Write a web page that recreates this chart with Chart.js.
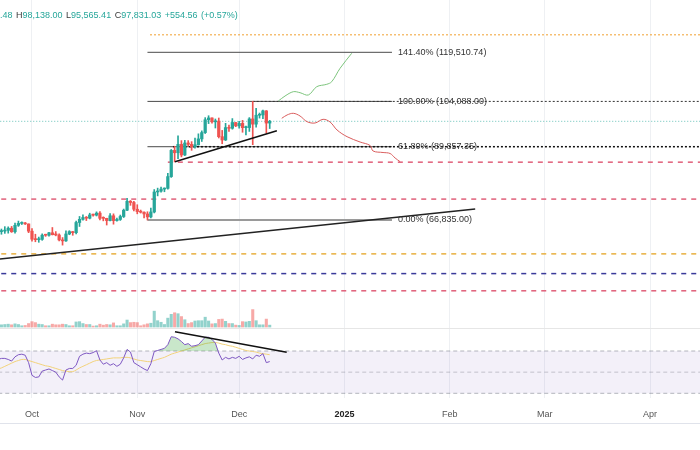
<!DOCTYPE html>
<html><head><meta charset="utf-8">
<script src="https://cdn.jsdelivr.net/npm/chart.js@4.4.1/dist/chart.umd.min.js"></script>
<style>
html,body{margin:0;padding:0;background:#fff;}
#wrap{position:relative;width:700px;height:450px;overflow:hidden;}
#hdr{position:absolute;left:0;top:10px;font:9px "Liberation Sans",Arial,sans-serif;line-height:11px;color:#26a69a;white-space:nowrap;word-spacing:1px;}
#hdr .k{color:#3a3a3a;}
</style></head><body>
<div id="wrap"><canvas id="c" width="700" height="450"></canvas>
<div id="hdr"><span>.48</span> <span class="k">H</span>98,138.00 <span class="k">L</span>95,565.41 <span class="k">C</span>97,831.03 +554.56 (+0.57%)</div></div>
<script>
// ---- data (x = days since 2024-10-01) ----
const firstDay = -10; // 2024-09-21
const opens = [62949,63192,63348,63578,64259,63144,65173,65769,65858,65602,
 63327,60805,60650,60754,62068,62052,62820,62224,62135,60583,
 60274,62446,63193,62851,66047,67042,67612,67400,68428,68362,
 69002,67367,67360,66653,68161,66642,67014,67930,69907,72720,72339,
 70216,69482,69289,68741,67811,69359,75640,75904,76545,76778,
 80471,88700,87955,90587,87251,91033,90587,89855,90465,92310,
 94286,98317,98892,97673,97900,93010,91965,95864,95644,97460,
 96407,97185,95840,95865,98587,96945,99740,99831,101109,97276.48];
const highs = [63550,64000,64745,64688,64817,65839,66498,66260,66076,65618,
 64130,62370,61475,62484,62370,62986,64478,63200,62520,61320,
 63417,63480,63272,66500,67950,68425,67939,68969,68693,69400,
 69520,67836,67400,68850,68771,67450,68388,70270,73620,72962,72700,
 71632,69960,69389,69432,70577,76400,76850,77199,76927,81500,
 89000,89956,93265,91765,91850,91779,91449,92595,93905,94831,
 98989,99588,98950,98564,98871,94974,97208,96650,98694,97464,
 97836,98130,96305,99000,104088,101899,100439,101350,101215,98138];
const lows = [62758,62357,62638,62700,62947,62670,64819,65422,65432,62857,
 60164,60000,59828,60459,61689,61794,62128,61860,60300,58946,
 60087,62209,62033,62442,64800,66750,66666,67177,68010,68100,
 66840,66571,65260,66559,65520,66440,66700,67618,69730,71436,69685,
 68779,69020,67478,66835,67458,69055,74416,75562,75705,76492,
 80216,85073,86127,86668,87073,90057,88722,89376,90357,91500,
 94000,97122,97232,95734,92600,90791,91792,94650,95365,96150,
 95693,94395,93578,94660,90500,95982,98844,98657,94150,95565.41];
const closes = [63192,63348,63578,64259,63144,65173,65769,65858,65602,63327,
 60805,60650,60754,62068,62052,62820,62224,62135,60583,60274,
 62446,63193,62851,66047,67042,67612,67400,68428,68362,69002,
 67367,67360,66653,68161,66642,67014,67930,69907,72720,72339,70216,
 69482,69289,68741,67811,69359,75640,75904,76545,76778,80471,
 88700,87955,90587,87251,91033,90587,89855,90465,92310,94286,
 98317,98892,97673,97900,93010,91965,95864,95644,97460,96407,
 97185,95840,95865,98587,96945,99740,99831,101109,97276.48,97831.03];
const volumes = [10,14,16,18,14,20,16,8,10,22,
 34,28,18,16,8,8,18,14,14,18,
 16,8,8,32,34,22,16,16,6,8,
 18,12,16,14,26,8,8,20,44,28,30,
 28,8,14,20,24,100,40,30,16,56,
 80,90,84,66,46,22,28,38,40,40,
 62,38,20,22,48,50,36,22,22,12,
 10,34,32,36,110,40,14,14,50,12];
const rsi = [62,63,63,62,60.5,64.5,66.5,67,66,59,
 47,45,45.5,51,52,53,51.5,50,45.5,42.5,
 52,53.5,53.5,56.5,65,67,68,67.5,68.5,70.3,
 61.5,57.5,59,56.5,58,55.5,57.5,63.5,71.5,69,59,
 57,55,53,51.5,58,69.5,70.5,71.5,72.5,76,
 83.5,83,81.5,79,76,77,74.5,75,76,79.5,
 83,83,81,77.5,68,61.5,64,62.5,64,63,
 65,62,63.5,64.5,62.5,66,65,67.5,59,60];
const rsiMA = [53,54,55.5,57,58.5,60,61,62,62,61,
 60,59,58,57,56,55.5,54.5,53.5,52.5,51.5,
 51,50.5,50.5,52,54,55.5,57,58.5,60,61,
 61.5,62,62.5,63,63.5,63.5,63.5,64,64,63.5,62.5,
 61.5,61,60.5,60,60,61,62,63,64,65.5,
 67,68,69,70,71,72,73,74,75,76,
 77,77.5,78,78,77.5,76.5,76,75,74.5,73.5,
 72.5,71.5,70.5,70,69.5,69,68,67.5,67,66.5];
const tickDays = [0,31,61,92,123,151,182];
const tickLabels = ['Oct','Nov','Dec','2025','Feb','Mar','Apr'];
const fibPrices = [119510.74,104088.00,89857.35,66835.00];
const fibLabels = ['141.40% (119,510.74)','100.00% (104,088.00)','61.80% (89,857.35)','0.00% (66,835.00)'];
const fibStartDay = 34, fibEndDay = 106;
const lastPrice = 97831.03;
const targetPrice = 125000;
const supportPrices = [85000, 73400, 56200, 50000, 44600];
const longTrend = [{x:-9.42,y:54585},{x:130.5,y:70290}];
const shortTrend = [{x:42.1,y:85148},{x:72.1,y:94885}];
const rsiTrend = [{x:42.1,y:88.2},{x:75.0,y:68.8}];
const bullPath = [[72.54,104214],[74.51,105784],[76.95,107135],[78.93,106821],[81.37,106098],[83.85,108706],[86.79,109459],[88.26,110276],[90.71,114485],[94.15,119197]];
const bearPath = [[73.54,98780],[75.10,99817],[76.95,100351],[78.93,99503],[80.99,97713],[83.35,97302],[85.71,98466],[87.77,97618],[89.83,95105],[92.78,93001],[96.61,91336],[99.56,90237],[100.44,88509],[103.38,88038],[105.45,87724],[106.92,86311],[108.40,85148]];

// ---- layout ranges ----
const X_MIN = -9.42, X_MAX = 196.7;
const P_MIN = 10927, P_MAX = 135938;
const V_MIN = -447, V_MAX = 2060;
const R_MIN = 25.56, R_MAX = 401.9;
const UP = '#26a69a', DN = '#ef5350';

const days = closes.map((_, i) => firstDay + i);
const isUp = closes.map((c, i) => c >= opens[i]);
const candleCol = isUp.map(u => u ? UP : DN);
const volCol = isUp.map(u => u ? 'rgba(38,166,154,0.5)' : 'rgba(239,83,80,0.5)');

function hline(y, x0, x1, color, width, dash, order, axis) {
  return {type:'line', data:[{x:x0,y:y},{x:x1,y:y}], borderColor:color, borderWidth:width,
    borderDash:dash||[], yAxisID:axis||'y', order:order, pointRadius:0, fill:false};
}
const datasets = [
  {type:'bar', data: days.map((d,i)=>({x:d,y:[lows[i],highs[i]]})), backgroundColor:candleCol, barThickness:1, grouped:false, order:11, yAxisID:'y', minBarLength:1},
  {type:'bar', data: days.map((d,i)=>({x:d,y:[opens[i],closes[i]]})), backgroundColor:candleCol, barThickness:2.6, grouped:false, order:10, yAxisID:'y', minBarLength:1},
  {type:'bar', data: days.map((d,i)=>({x:d,y:volumes[i]})), backgroundColor:volCol, barThickness:2.4, grouped:false, order:12, yAxisID:'yVol'},
  // fib
  hline(fibPrices[0], fibStartDay, fibEndDay, '#4a4a4a', 1, [], 20),
  hline(fibPrices[1], fibStartDay, fibEndDay, '#4a4a4a', 1, [], 20),
  hline(fibPrices[2], fibStartDay, fibEndDay, '#4a4a4a', 1, [], 20),
  hline(fibPrices[3], fibStartDay, fibEndDay, '#9a9a9a', 2, [], 20),
  hline(fibPrices[1], 65, 200, '#333', 1, [2,2], 19),
  hline(fibPrices[2], 41.5, 200, '#111', 1.5, [2,2], 19),
  hline(lastPrice, -12, 200, 'rgba(38,166,154,0.7)', 1, [1,2], 19),
  hline(targetPrice, 34.75, 200, '#f0a030', 1, [2,2], 19),
  hline(supportPrices[0], 40, 200, '#e0607a', 1.5, [5,5], 19),
  hline(supportPrices[1], -12, 200, '#e0607a', 1.5, [5,5], 19),
  hline(supportPrices[2], -12, 200, '#e8b040', 1.5, [5,5], 19),
  hline(supportPrices[3], -12, 200, '#3a3a9a', 1.5, [5,5], 19),
  hline(supportPrices[4], -12, 200, '#e0607a', 1.5, [5,5], 19),
  // trendlines
  {type:'line', data:longTrend, borderColor:'#222', borderWidth:1.5, pointRadius:0, order:1, yAxisID:'y'},
  {type:'line', data:shortTrend, borderColor:'#111', borderWidth:1.5, pointRadius:0, order:1, yAxisID:'y'},
  {type:'line', data:bullPath.map(p=>({x:p[0],y:p[1]})), borderColor:'#7cc47c', borderWidth:1, pointRadius:0, tension:0.35, order:2, yAxisID:'y'},
  {type:'line', data:bearPath.map(p=>({x:p[0],y:p[1]})), borderColor:'#d95c5c', borderWidth:1, pointRadius:0, tension:0.35, order:2, yAxisID:'y'},
  // RSI
  hline(70, -12, 200, 'rgba(120,123,134,0.55)', 1, [4,3], 30, 'yRsi'),
  hline(50, -12, 200, 'rgba(120,123,134,0.4)', 1, [4,3], 30, 'yRsi'),
  hline(30, -12, 200, 'rgba(120,123,134,0.55)', 1, [4,3], 30, 'yRsi'),
  {type:'line', data: days.map((d,i)=>({x:d,y:rsiMA[i]})), borderColor:'#f2d27a', borderWidth:1, pointRadius:0, tension:0.3, order:6, yAxisID:'yRsi'},
  {type:'line', data: days.map((d,i)=>({x:d,y:rsi[i]})), borderColor:'#7e57c2', borderWidth:1, pointRadius:0, order:5, yAxisID:'yRsi',
    fill:{target:{value:70}, above:'rgba(76,175,80,0.3)', below:'rgba(0,0,0,0)'}},
  {type:'line', data:rsiTrend, borderColor:'#111', borderWidth:1.5, pointRadius:0, order:1, yAxisID:'yRsi'}
];

const panes = {
  id:'panes',
  beforeDatasetsDraw(chart){
    const {ctx, chartArea:a, scales} = chart;
    const r = scales.yRsi;
    ctx.save();
    ctx.fillStyle = 'rgba(126,87,194,0.09)';
    const t = r.getPixelForValue(70), b = r.getPixelForValue(30);
    ctx.fillRect(a.left, t, a.right-a.left, b-t);
    ctx.strokeStyle = '#e6e6e6'; ctx.lineWidth = 1;
    const s = Math.round(scales.yVol.getPixelForValue(0)) + 1.5;
    ctx.beginPath(); ctx.moveTo(a.left, s); ctx.lineTo(a.right, s); ctx.stroke();
    ctx.strokeStyle = '#e0e3eb';
    const bl = a.bottom + 25.5;
    ctx.beginPath(); ctx.moveTo(0, bl); ctx.lineTo(700, bl); ctx.stroke();
    ctx.restore();
  },
  afterDatasetsDraw(chart){
    const {ctx, scales} = chart;
    ctx.save();
    ctx.font = '9px "Liberation Sans", Arial, sans-serif';
    ctx.fillStyle = '#333';
    ctx.textBaseline = 'middle';
    const x = scales.x.getPixelForValue(fibEndDay) + 6;
    fibLabels.forEach((lab, i) => {
      ctx.fillText(lab, x, scales.y.getPixelForValue(fibPrices[i]));
    });
    ctx.restore();
  }
};

new Chart(document.getElementById('c'), {
  type:'bar',
  data:{datasets},
  options:{
    responsive:false, animation:false, devicePixelRatio:1,
    layout:{padding:{left:0,right:0,top:0,bottom:26}},
    plugins:{legend:{display:false}, tooltip:{enabled:false}},
    elements:{point:{radius:0}, line:{borderCapStyle:'butt'}},
    scales:{
      x:{type:'linear', min:X_MIN, max:X_MAX, offset:false,
        grid:{color:'#eef0f3', drawTicks:false, offset:false},
        border:{display:false},
        afterBuildTicks(scale){ scale.ticks = tickDays.map(v=>({value:v})); },
        afterFit(scale){ scale.height = 26; },
        ticks:{autoSkip:false, maxRotation:0, padding:11,
          callback:(v)=>tickLabels[tickDays.indexOf(v)],
          color:(c)=> (c.tick && c.tick.value===92) ? '#222' : '#555',
          font:(c)=>({family:'"Liberation Sans", Arial, sans-serif', size:9, weight:(c.tick && c.tick.value===92)?'bold':'normal'})}
      },
      y:{display:false, min:P_MIN, max:P_MAX},
      yVol:{display:false, min:V_MIN, max:V_MAX},
      yRsi:{display:false, min:R_MIN, max:R_MAX}
    }
  },
  plugins:[panes]
});
</script>
</body></html>
